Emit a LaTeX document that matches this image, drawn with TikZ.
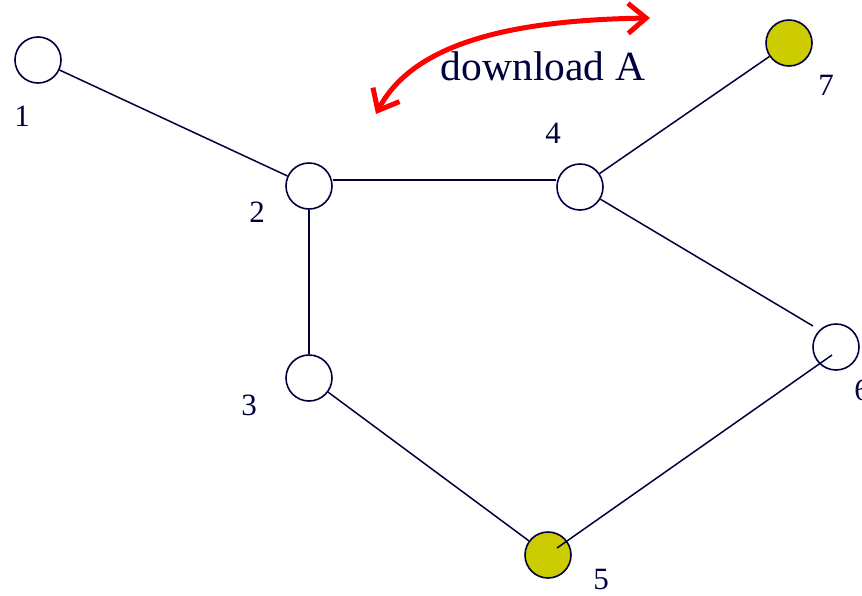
\documentclass[tikz,border=0pt]{standalone}
\usepackage{fontspec}
\setmainfont{Liberation Serif}
\usetikzlibrary{arrows.meta}
\definecolor{navy}{RGB}{0,0,60}
\definecolor{olive}{RGB}{204,204,0}
\tikzset{
  vertex/.style={circle,draw=navy,line width=1.6pt,minimum size=46pt,inner sep=0pt,fill=white},
  seed/.style={vertex,fill=olive},
  edge/.style={navy,line width=1.5pt},
  lbl/.style={text=navy,font=\fontsize{31}{31}\selectfont,inner sep=0pt},
  dl/.style={red,line width=5pt,{Straight Barb[length=18pt,width=30pt]}-{Straight Barb[length=18pt,width=30pt]}}
}
\begin{document}
\begin{tikzpicture}[x=1pt,y=-1pt]
\useasboundingbox[fill=white] (0,0) rectangle (862,595);
\node[vertex] (n1) at (38,60) {};
\node[vertex] (n2) at (309,186) {};
\node[vertex] (n3) at (309,378) {};
\node[vertex] (n4) at (580,187) {};
\node[vertex] (n6) at (836,347) {};
\node[seed] (n5) at (548,555) {};
\node[seed] (n7) at (789,43) {};
\coordinate (c56a) at (557,548);
\coordinate (c56b) at (832,355);
\coordinate (c46) at (813,326);
\draw[edge] (n1) -- (n2);
\draw[edge] (n2.east |- 0,180) -- (n4.west |- 0,180);
\draw[edge] (n2) -- (n3);
\draw[edge] (n4) -- (n7);
\draw[edge] (n4) -- (c46);
\draw[edge] (n3) -- (n5);
\draw[edge] (c56a) -- (c56b);
\node[lbl] (l1) at (22,116) {1};
\node[lbl] (l2) at (257,212) {2};
\node[lbl] (l3) at (249,405) {3};
\node[lbl] (l4) at (553,133) {4};
\node[lbl] (l5) at (601,579) {5};
\node[lbl] (l6) at (862,390) {6};
\node[lbl] (l7) at (826,85) {7};
\node[text=navy,font=\fontsize{41.5}{41.5}\selectfont,inner sep=0pt] (dlA) at (543,66) {download A};
\coordinate (aS) at (376,114);
\coordinate (aE) at (650,18);
\draw[dl] (aS) .. controls (415,40) and (520,20) .. (aE);
\end{tikzpicture}
\end{document}
